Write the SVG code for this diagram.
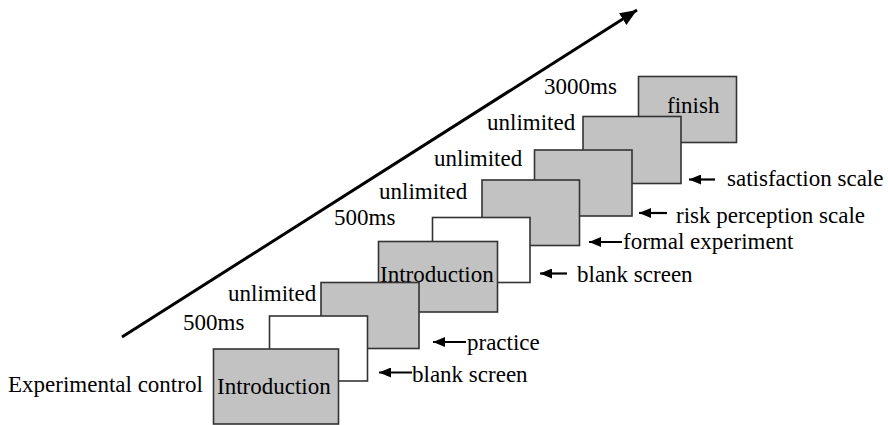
<svg xmlns="http://www.w3.org/2000/svg" width="888" height="425" viewBox="0 0 888 425">
<style>
text{font-family:'Liberation Serif','DejaVu Serif','Noto Serif',serif;font-size:23px;fill:#000}
.g{fill:#c2c2c2;stroke:#333;stroke-width:1.6}
.w{fill:#fff;stroke:#333;stroke-width:1.6}
.a{stroke:#000;stroke-width:2.2;fill:none;marker-end:url(#ah)}
</style>
<defs>
<marker id="ah" markerUnits="userSpaceOnUse" markerWidth="12" markerHeight="10" refX="12" refY="5" orient="auto"><path d="M0,0 L12,5 L0,10 z" fill="#000"/></marker>
<marker id="big" markerUnits="userSpaceOnUse" markerWidth="18" markerHeight="14" refX="17" refY="7" orient="auto"><path d="M0,0 L17,7 L0,14 z" fill="#000"/></marker>
</defs>
<rect width="888" height="425" fill="#fff"/>
<g id="finish"><rect class="g" x="638.5" y="76.5" width="98" height="66"/><text x="667" y="113">finish</text><text x="544" y="94">3000ms</text></g>
<g id="satisfaction"><rect class="g" x="583" y="116.5" width="98" height="67"/><text x="487" y="130">unlimited</text><text x="727" y="186">satisfaction scale</text></g>
<g id="risk"><rect class="g" x="534.5" y="150" width="97.5" height="66"/><text x="434" y="166">unlimited</text><text x="676" y="223">risk perception scale</text></g>
<g id="formal"><rect class="g" x="482" y="180" width="97.5" height="65.5"/><text x="379" y="199">unlimited</text><text x="623" y="249">formal experiment</text></g>
<g id="blank2"><rect class="w" x="432.5" y="217.5" width="97.5" height="65"/><text x="334" y="225">500ms</text><text x="577" y="282">blank screen</text></g>
<g id="intro2"><rect class="g" x="378.5" y="241.5" width="119" height="70.5"/><text x="380" y="282">Introduction</text></g>
<g id="practice"><rect class="g" x="321" y="282.5" width="98" height="66"/><text x="228" y="301">unlimited</text><text x="467" y="350">practice</text></g>
<g id="blank1"><rect class="w" x="269.5" y="316" width="98" height="65"/><text x="183" y="330">500ms</text><text x="412" y="382">blank screen</text></g>
<g id="intro1"><rect class="g" x="213.5" y="349" width="125" height="75"/><text x="217" y="394">Introduction</text><text x="8" y="392">Experimental control</text></g>
<g id="connectors">
<line x1="122" y1="337" x2="637" y2="10" stroke="#000" stroke-width="3" marker-end="url(#big)"/>
<line class="a" x1="412" y1="372.5" x2="379" y2="372.5"/>
<line class="a" x1="466" y1="342" x2="433" y2="342"/>
<line class="a" x1="567" y1="273.5" x2="540" y2="273.5"/>
<line class="a" x1="622" y1="242" x2="589" y2="242"/>
<line class="a" x1="667" y1="213" x2="639" y2="213"/>
<line class="a" x1="715" y1="179.5" x2="689" y2="179.5"/>
</g>
</svg>
